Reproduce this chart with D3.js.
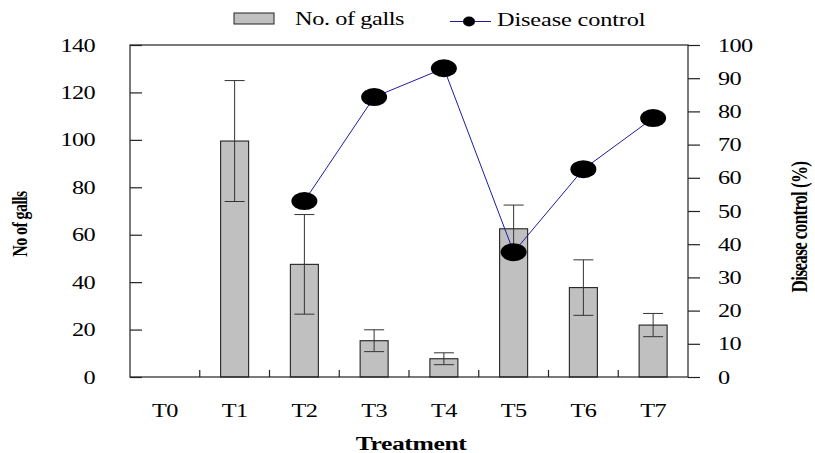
<!DOCTYPE html>
<html>
<head>
<meta charset="utf-8">
<script src="https://cdn.jsdelivr.net/npm/d3@7.9.0/dist/d3.min.js"></script>
<style>
  body { margin: 0; background: #fff; }
  svg { display: block; font-family: "Liberation Serif", "Times New Roman", serif; }
</style>
</head>
<body>
<svg id="chart" width="815" height="453"></svg>
<script>
// data
const treatments = ['T0', 'T1', 'T2', 'T3', 'T4', 'T5', 'T6', 'T7'];
const galls = [null, 99.5, 47.5, 15.3, 7.7, 62.5, 37.7, 21.9];
const gallsErr = [null, 25.5, 21, 4.6, 2.5, 10, 11.7, 4.9];
const control = [null, null, 53, 84.3, 93, 37.6, 62.6, 78];
const leftTicks = [0, 20, 40, 60, 80, 100, 120, 140];
const rightTicks = [0, 10, 20, 30, 40, 50, 60, 70, 80, 90, 100];

const svg = d3.select('#chart');
const plotL = 130, plotR = 688, plotT = 45, plotB = 377;
const SX = 1.35;   // the figure is stretched horizontally

const x = d3.scaleBand().domain(treatments).range([plotL, plotR]);
const yL = d3.scaleLinear().domain([0, 140]).range([plotB, plotT]);
const yR = d3.scaleLinear().domain([0, 100]).range([plotB, plotT]);

const rows = treatments.map((t, i) => ({ t, g: galls[i], e: gallsErr[i], c: control[i] }));

// bars
const barW = 28;
svg.append('g').selectAll('rect')
    .data(rows.filter(d => d.g != null))
    .join('rect')
    .attr('x', d => x(d.t) + x.bandwidth() / 2 - barW / 2)
    .attr('y', d => yL(d.g))
    .attr('width', barW)
    .attr('height', d => plotB - yL(d.g))
    .attr('fill', '#c0c0c0')
    .attr('stroke', '#222')
    .attr('stroke-width', 1.1);

// error bars
const eb = svg.append('g').attr('stroke', '#333').attr('stroke-width', 1);
rows.filter(d => d.e != null).forEach(d => {
    const cx = x(d.t) + x.bandwidth() / 2;
    eb.append('line').attr('x1', cx).attr('x2', cx).attr('y1', yL(d.g + d.e)).attr('y2', yL(d.g - d.e));
    [d.g + d.e, d.g - d.e].forEach(v => {
        eb.append('line').attr('x1', cx - 10).attr('x2', cx + 10).attr('y1', yL(v)).attr('y2', yL(v));
    });
});

// frame
svg.append('rect')
    .attr('x', plotL).attr('y', plotT)
    .attr('width', plotR - plotL).attr('height', plotB - plotT)
    .attr('fill', 'none').attr('stroke', '#222').attr('stroke-width', 1.2);

function stretchLabels(g, dx, anchor) {
    g.attr('font-family', null).attr('font-size', null);
    g.selectAll('.tick text')
        .attr('x', 0).attr('dy', null).attr('y', 6)
        .attr('text-anchor', anchor)
        .attr('letter-spacing', -0.5)
        .attr('transform', `translate(${dx},0) scale(${SX},1)`)
        .attr('font-size', 18).attr('fill', '#000');
}

// left axis
svg.append('g')
    .attr('transform', `translate(${plotL},0)`)
    .call(d3.axisLeft(yL).tickValues(leftTicks).tickSizeInner(-12).tickSizeOuter(0).tickPadding(0))
    .call(g => g.select('.domain').remove())
    .call(g => g.selectAll('line').attr('stroke', '#222').attr('stroke-width', 1.2))
    .call(g => stretchLabels(g, -35, 'end'));

// right axis
svg.append('g')
    .attr('transform', `translate(${plotR},0)`)
    .call(d3.axisRight(yR).tickValues(rightTicks).tickSizeInner(12).tickSizeOuter(0))
    .call(g => g.select('.domain').remove())
    .call(g => g.selectAll('line').attr('stroke', '#222').attr('stroke-width', 1.2))
    .call(g => stretchLabels(g, 30, 'start'));

// bottom axis: labels at category centres, small ticks between categories
svg.append('g')
    .attr('transform', `translate(0,${plotB})`)
    .call(d3.axisBottom(x).tickSize(0))
    .call(g => g.attr('font-family', null).attr('font-size', null))
    .call(g => g.select('.domain').remove())
    .call(g => g.selectAll('.tick text')
        .attr('y', 40).attr('dy', null).attr('x', 0)
        .attr('letter-spacing', -0.5)
        .attr('transform', `scale(${SX},1)`)
        .attr('font-size', 18).attr('fill', '#000'));

svg.append('g').selectAll('line')
    .data(treatments.slice(1))
    .join('line')
    .attr('x1', d => x(d)).attr('x2', d => x(d))
    .attr('y1', plotB).attr('y2', plotB - 7)
    .attr('stroke', '#222').attr('stroke-width', 1.2);

// disease control line + markers
const pts = rows.filter(d => d.c != null);
svg.append('path')
    .datum(pts)
    .attr('d', d3.line().x(d => x(d.t) + x.bandwidth() / 2).y(d => yR(d.c)))
    .attr('fill', 'none')
    .attr('stroke', '#1c1c9c')
    .attr('stroke-width', 1);

svg.append('g').selectAll('ellipse')
    .data(pts)
    .join('ellipse')
    .attr('cx', d => x(d.t) + x.bandwidth() / 2)
    .attr('cy', d => yR(d.c))
    .attr('rx', 13).attr('ry', 9)
    .attr('fill', '#000');

// axis titles
svg.append('text')
    .attr('transform', `translate(${plotL + (plotR - plotL) / 2 + 2},450) scale(${SX},1)`)
    .attr('text-anchor', 'middle')
    .attr('font-size', 19).attr('font-weight', 'bold').attr('letter-spacing', -0.3)
    .text('Treatment');

svg.append('text')
    .attr('transform', `translate(27,224) scale(${SX},1) rotate(-90)`)
    .attr('text-anchor', 'middle')
    .attr('font-size', 16).attr('font-weight', 'bold').attr('letter-spacing', -0.6)
    .text('No of galls');

svg.append('text')
    .attr('transform', `translate(807,227) scale(${SX},1) rotate(-90)`)
    .attr('text-anchor', 'middle')
    .attr('font-size', 17).attr('font-weight', 'bold').attr('letter-spacing', -0.6)
    .text('Disease control (%)');

// legend
const lg = svg.append('g');
lg.append('rect')
    .attr('x', 234).attr('y', 13).attr('width', 40).attr('height', 11)
    .attr('fill', '#c0c0c0').attr('stroke', '#222').attr('stroke-width', 1);
lg.append('text')
    .attr('transform', `translate(295,25) scale(${SX},1)`)
    .attr('font-size', 18).attr('letter-spacing', -0.3)
    .text('No. of galls');
lg.append('line')
    .attr('x1', 450).attr('x2', 491).attr('y1', 21.5).attr('y2', 21.5)
    .attr('stroke', '#1c1c9c').attr('stroke-width', 1);
lg.append('ellipse')
    .attr('cx', 469).attr('cy', 21.5).attr('rx', 6).attr('ry', 5).attr('fill', '#000');
lg.append('text')
    .attr('transform', `translate(497,26) scale(${SX},1)`)
    .attr('font-size', 18).attr('letter-spacing', -0.1)
    .text('Disease control');
</script>
</body>
</html>
